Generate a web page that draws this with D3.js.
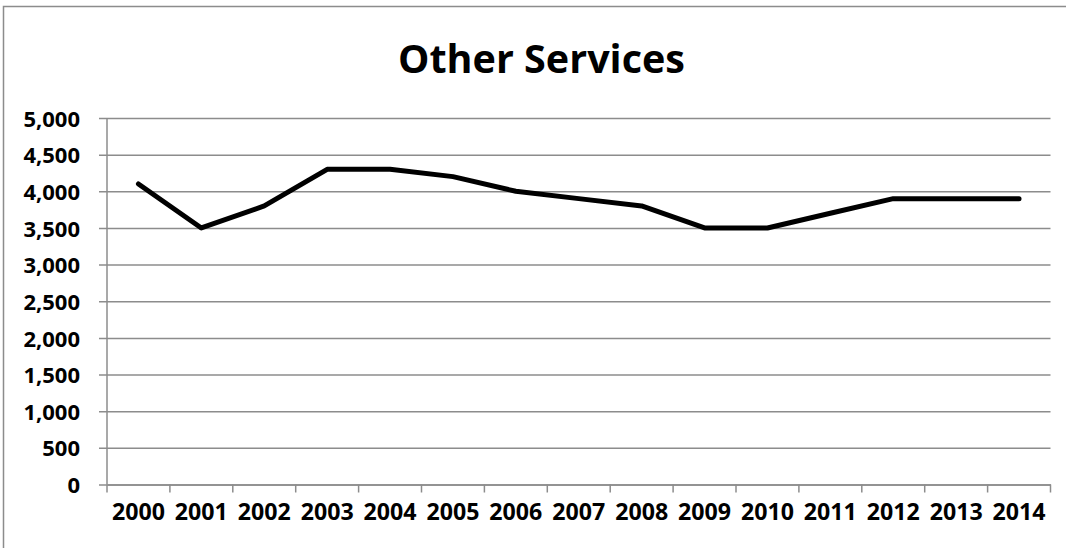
<!DOCTYPE html>
<html>
<head>
<meta charset="utf-8">
<script src="https://cdn.jsdelivr.net/npm/d3@7"></script>
<style>
  html, body { margin: 0; padding: 0; background: #fff; }
  svg { display: block; }
  text { font-family: "Open Sans", Lato, sans-serif; font-weight: bold; fill: #000; }
</style>
</head>
<body>
<script>
const title = "Other Services";
const years = ["2000","2001","2002","2003","2004","2005","2006","2007","2008","2009","2010","2011","2012","2013","2014"];
const values = [4100, 3500, 3800, 4300, 4300, 4200, 4000, 3900, 3800, 3500, 3500, 3700, 3900, 3900, 3900];
const yTicks = [0, 500, 1000, 1500, 2000, 2500, 3000, 3500, 4000, 4500, 5000];

(function () {
const W = 1066, H = 548;
const svg = d3.select("body").append("svg").attr("width", W).attr("height", H);

// chart border (top and left visible)
svg.append("path")
  .attr("d", "M3.5,548 L3.5,6.5 L1066,6.5")
  .attr("fill", "none").attr("stroke", "#8c8c8c").attr("stroke-width", 1.5);

const pLeft = 107, pRight = 1050.5, pTop = 118, pBottom = 484.5;
const x = d3.scaleBand().domain(years).range([pLeft, pRight]);
const y = d3.scaleLinear().domain([0, 5000]).range([pBottom, pTop]);

const gridColor = "#8c8c8c";

function fitWidth(sel, target) {
  sel.each(function () {
    const n = d3.select(this);
    const fs = parseFloat(n.style("font-size"));
    const w = this.getComputedTextLength();
    n.style("font-size", (fs * target(this.textContent) / w).toFixed(2) + "px");
  });
}

// horizontal gridlines with left tick extension
const yAxis = d3.axisLeft(y).tickValues(yTicks).tickSize(-(pRight - pLeft)).tickFormat(d3.format(","));
const gy = svg.append("g").attr("transform", `translate(${pLeft},0)`).call(yAxis);
gy.select(".domain").remove();
gy.selectAll(".tick line").attr("stroke", gridColor).attr("stroke-width", 1.5).attr("x1", -8);
gy.selectAll(".tick text").attr("x", -27).attr("dy", "0.37em").style("font-size", "22px");

// vertical y axis line
svg.append("line").attr("x1", pLeft).attr("x2", pLeft).attr("y1", pTop).attr("y2", pBottom)
  .attr("stroke", gridColor).attr("stroke-width", 1.5);

// x axis with boundary ticks
const xAxis = d3.axisBottom(x).tickSize(0).tickSizeOuter(0);
const gx = svg.append("g").attr("transform", `translate(0,${pBottom})`).call(xAxis);
gx.select(".domain").attr("stroke", gridColor).attr("stroke-width", 1.5);
gx.selectAll(".tick text").attr("y", 0).attr("dy", "1.55em").style("font-size", "22px");
fitWidth(gx.selectAll(".tick text"), () => 53);
const bounds = years.map(d => x(d)).concat([x(years[years.length - 1]) + x.bandwidth()]);
svg.append("g").selectAll("line").data(bounds).join("line")
  .attr("x1", d => d).attr("x2", d => d)
  .attr("y1", pBottom).attr("y2", pBottom + 8)
  .attr("stroke", gridColor).attr("stroke-width", 1.5);

// data line
const line = d3.line()
  .x((d, i) => x(years[i]) + x.bandwidth() / 2)
  .y(d => y(d));
svg.append("path").datum(values)
  .attr("d", line)
  .attr("fill", "none").attr("stroke", "#000").attr("stroke-width", 5)
  .attr("stroke-linejoin", "round").attr("stroke-linecap", "round");

// title
const t = svg.append("text").attr("x", 541.5).attr("y", 73)
  .attr("text-anchor", "middle").style("font-size", "40px").text(title);
fitWidth(t, () => 287);
})();
</script>
</body>
</html>
